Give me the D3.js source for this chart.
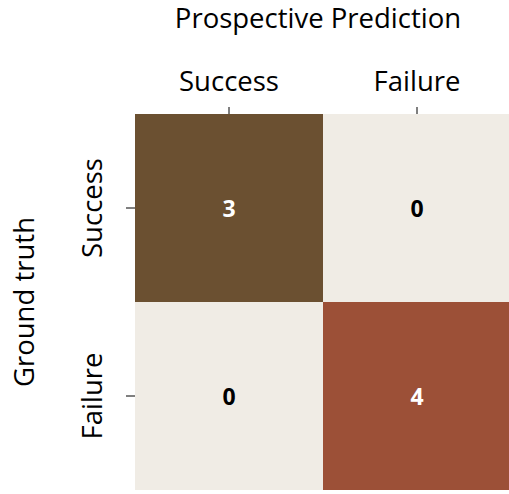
<!DOCTYPE html>
<html>
<head>
<meta charset="utf-8">
<script src="https://cdn.jsdelivr.net/npm/d3@7"></script>
<style>
  html, body { margin: 0; padding: 0; background: #fff; }
  svg { display: block; font-family: "Open Sans", sans-serif; }
</style>
</head>
<body>
<svg id="chart"></svg>
<script>
const predicted = ["Success", "Failure"];
const truth = ["Success", "Failure"];
// rows = ground truth, columns = prediction
const counts = [
  [3, 0],
  [0, 4]
];
const cellColors = [
  ["#6b5031", "#f0ece5"],
  ["#f0ece5", "#9c5037"]
];

const width = 509, height = 494;
const margin = { top: 114, left: 135 };
const gridSize = 376;
const labelSize = 27.5;

const svg = d3.select("#chart")
  .attr("width", width)
  .attr("height", height);

const x = d3.scaleBand().domain(predicted).range([margin.left, margin.left + gridSize]);
const y = d3.scaleBand().domain(truth).range([margin.top, margin.top + gridSize]);

const cells = [];
truth.forEach((t, i) => predicted.forEach((p, j) => {
  cells.push({ t, p, value: counts[i][j], color: cellColors[i][j] });
}));

svg.append("g")
  .selectAll("rect")
  .data(cells)
  .join("rect")
  .attr("x", d => x(d.p))
  .attr("y", d => y(d.t))
  .attr("width", x.bandwidth())
  .attr("height", y.bandwidth())
  .attr("fill", d => d.color);

svg.append("g")
  .selectAll("text")
  .data(cells)
  .join("text")
  .attr("x", d => x(d.p) + x.bandwidth() / 2)
  .attr("y", d => y(d.t) + y.bandwidth() / 2 + 1)
  .attr("dy", "0.35em")
  .attr("text-anchor", "middle")
  .attr("font-size", 23)
  .attr("font-weight", "bold")
  .attr("fill", d => d.value > 0 ? "#fff" : "#000")
  .text(d => d.value);

// top axis
const xAxis = svg.append("g")
  .attr("transform", `translate(0,${margin.top})`)
  .call(d3.axisTop(x).tickSize(7).tickPadding(16));
xAxis.select(".domain").remove();
xAxis.selectAll("text").attr("font-size", labelSize).attr("fill", "#000").attr("font-family", "Open Sans");

// left axis, rotated labels
const yAxis = svg.append("g")
  .attr("transform", `translate(${margin.left},0)`)
  .call(d3.axisLeft(y).tickSize(9));
yAxis.select(".domain").remove();
yAxis.selectAll("text")
  .attr("font-size", labelSize)
  .attr("fill", "#000")
  .attr("font-family", "Open Sans")
  .attr("text-anchor", "middle")
  .attr("x", null)
  .attr("dy", null)
  .attr("transform", "translate(-33,0) rotate(-90)")
  .attr("y", 0);

svg.append("text")
  .attr("x", 318)
  .attr("y", 28)
  .attr("text-anchor", "middle")
  .attr("font-size", labelSize)
  .text("Prospective Prediction");

svg.append("text")
  .attr("transform", `translate(34,${margin.top + gridSize / 2}) rotate(-90)`)
  .attr("text-anchor", "middle")
  .attr("font-size", labelSize)
  .text("Ground truth");
</script>
</body>
</html>
